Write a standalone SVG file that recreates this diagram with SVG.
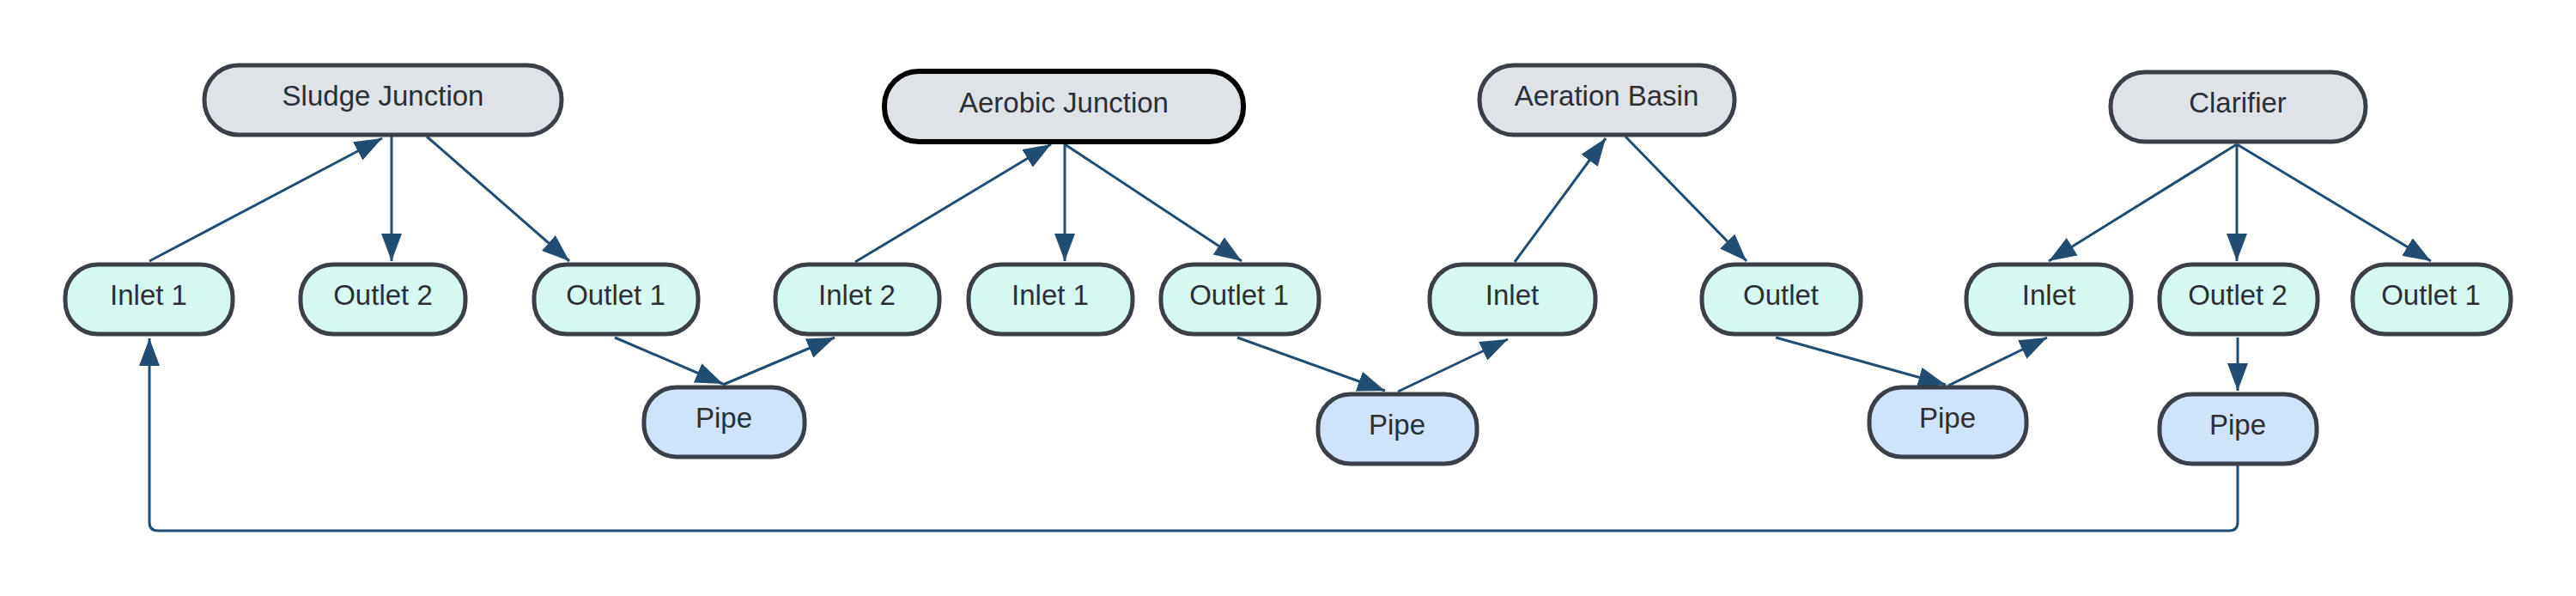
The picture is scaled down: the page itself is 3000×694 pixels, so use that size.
<svg xmlns="http://www.w3.org/2000/svg" width="3000" height="694" viewBox="0 0 3000 694">
<style>
.n rect{stroke:#3a3f48;stroke-width:5}
.top rect{fill:#dfe2e6}
.port rect{fill:#d5f8f1}
.pipe rect{fill:#cfe3fc}
.sel rect{stroke:#000;stroke-width:6}
text{font-family:"Liberation Sans",Arial,sans-serif;font-size:33px;fill:#2b2f36;text-anchor:middle}
.e path{fill:none;stroke:#224d72;stroke-width:3}
</style>
<defs>
<marker id="ah" markerUnits="userSpaceOnUse" viewBox="0 0 32 24" markerWidth="32" markerHeight="24" refX="32" refY="12" orient="auto">
<path d="M0,0 L32,12 L0,24 z" fill="#224d72"/>
</marker>
</defs>
<rect width="3000" height="694" fill="#fff"/>
<g id="edges" class="e">
<path d="M174,304 L445,161" marker-end="url(#ah)"/>
<path d="M456,159 L456,304" marker-end="url(#ah)"/>
<path d="M497,159 L663,304" marker-end="url(#ah)"/>
<path d="M996,305 L1224,168" marker-end="url(#ah)"/>
<path d="M1240,168 L1240,304" marker-end="url(#ah)"/>
<path d="M1240,168 L1446,304" marker-end="url(#ah)"/>
<path d="M1764,305 L1870,161" marker-end="url(#ah)"/>
<path d="M1893,159 L2034,304" marker-end="url(#ah)"/>
<path d="M2605,168 L2386,304" marker-end="url(#ah)"/>
<path d="M2605,168 L2605,304" marker-end="url(#ah)"/>
<path d="M2605,168 L2831,304" marker-end="url(#ah)"/>
<path d="M716,393 L842,447" marker-end="url(#ah)"/>
<path d="M842,448 L972,393" marker-end="url(#ah)"/>
<path d="M1441,393 L1613,455" marker-end="url(#ah)"/>
<path d="M1628,456 L1756,395" marker-end="url(#ah)"/>
<path d="M2068,393 L2266,448" marker-end="url(#ah)"/>
<path d="M2269,449 L2384,393" marker-end="url(#ah)"/>
<path d="M2606,393 L2606,455" marker-end="url(#ah)"/>
<path d="M2606,542 L2606,608 Q2606,618 2596,618 L184,618 Q174,618 174,608 L174,394" marker-end="url(#ah)"/>
</g>
<g id="sludge-junction" class="n top"><rect x="238" y="76" width="416" height="81" rx="40"/><text x="446" y="123">Sludge Junction</text></g>
<g id="aerobic-junction" class="n top sel"><rect x="1030" y="83" width="418" height="82" rx="40"/><text x="1239" y="131">Aerobic Junction</text></g>
<g id="aeration-basin" class="n top"><rect x="1723" y="76" width="297" height="81" rx="40"/><text x="1871" y="123">Aeration Basin</text></g>
<g id="clarifier" class="n top"><rect x="2458" y="84" width="297" height="81" rx="40"/><text x="2606" y="131">Clarifier</text></g>
<g id="sj-inlet1" class="n port"><rect x="76" y="308" width="195" height="81" rx="38"/><text x="173" y="355">Inlet 1</text></g>
<g id="sj-outlet2" class="n port"><rect x="350" y="308" width="192" height="81" rx="38"/><text x="446" y="355">Outlet 2</text></g>
<g id="sj-outlet1" class="n port"><rect x="622" y="308" width="191" height="81" rx="38"/><text x="717" y="355">Outlet 1</text></g>
<g id="aj-inlet2" class="n port"><rect x="903" y="308" width="191" height="81" rx="38"/><text x="998" y="355">Inlet 2</text></g>
<g id="aj-inlet1" class="n port"><rect x="1128" y="308" width="191" height="81" rx="38"/><text x="1223" y="355">Inlet 1</text></g>
<g id="aj-outlet1" class="n port"><rect x="1352" y="308" width="184" height="81" rx="38"/><text x="1443" y="355">Outlet 1</text></g>
<g id="ab-inlet" class="n port"><rect x="1665" y="308" width="193" height="81" rx="38"/><text x="1761" y="355">Inlet</text></g>
<g id="ab-outlet" class="n port"><rect x="1982" y="308" width="185" height="81" rx="38"/><text x="2074" y="355">Outlet</text></g>
<g id="cl-inlet" class="n port"><rect x="2290" y="308" width="192" height="81" rx="38"/><text x="2386" y="355">Inlet</text></g>
<g id="cl-outlet2" class="n port"><rect x="2515" y="308" width="184" height="81" rx="38"/><text x="2606" y="355">Outlet 2</text></g>
<g id="cl-outlet1" class="n port"><rect x="2740" y="308" width="184" height="81" rx="38"/><text x="2831" y="355">Outlet 1</text></g>
<g id="pipe1" class="n pipe"><rect x="750" y="451" width="187" height="81" rx="38"/><text x="843" y="498">Pipe</text></g>
<g id="pipe2" class="n pipe"><rect x="1535" y="459" width="185" height="81" rx="38"/><text x="1627" y="506">Pipe</text></g>
<g id="pipe3" class="n pipe"><rect x="2177" y="451" width="183" height="81" rx="38"/><text x="2268" y="498">Pipe</text></g>
<g id="pipe4" class="n pipe"><rect x="2515" y="459" width="183" height="81" rx="38"/><text x="2606" y="506">Pipe</text></g>
</svg>
